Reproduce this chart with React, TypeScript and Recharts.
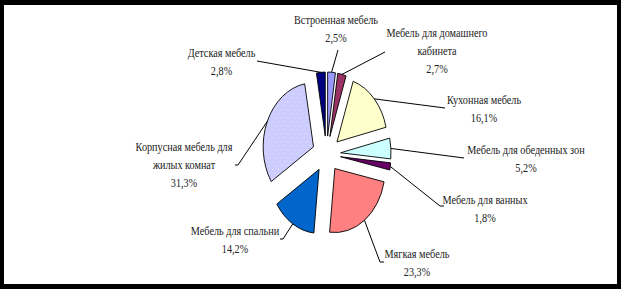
import React from 'react';
import { PieChart, Pie, Cell } from 'recharts';

// ---- data ----
const categories = [
  'Встроенная мебель',
  'Мебель для домашнего кабинета',
  'Кухонная мебель',
  'Мебель для обеденных зон',
  'Мебель для ванных',
  'Мягкая мебель',
  'Мебель для спальни',
  'Корпусная мебель для жилых комнат',
  'Детская мебель',
];
const shares = [2.5, 2.7, 16.1, 5.2, 1.8, 23.3, 14.2, 31.3, 2.8];

// ---- style / layout ----
const colors = ['#9999FF', '#993366', '#FFFFCC', '#CCFFFF', '#660066', '#FF8080', '#0066CC', 'url(#dotsFill)', '#000080'];
const CX = 326.5;
const CY = 154;
const R = 64;
const EXPLODE = 18;
const SX = 0.787;
const FONT = '"Liberation Serif", "Times New Roman", serif';
const FONT_SIZE = 13;
const LINE_H = 18;
const RAD = Math.PI / 180;

// label text block: first-line words count (0 = single line), centre x, first baseline y, leader end, optional elbow
const labelLayout = [
  { split: 0, x: 336, y: 24, end: [338, 50] },
  { split: 3, x: 437, y: 37, end: [385, 52] },
  { split: 0, x: 484, y: 104, end: [445, 108] },
  { split: 0, x: 526, y: 154, end: [464, 158] },
  { split: 0, x: 485, y: 204, end: [440, 206], elbow: [444, 206] },
  { split: 0, x: 417, y: 258, end: [380, 262], elbow: [384, 262] },
  { split: 0, x: 235, y: 235, end: [283, 239], elbow: [280, 239] },
  { split: 3, x: 184, y: 151, end: [238, 165], elbow: [235, 165] },
  { split: 0, x: 221.5, y: 57, end: [257, 61] },
];

const data = categories.map((name, i) => ({ name, value: shares[i] }));

const fmt = (v: number) => v.toFixed(1).replace('.', ',') + '%';

const ExplodedSector = (props: any) => {
  const { cx, cy, outerRadius, startAngle, endAngle, fill } = props;
  const mid = ((startAngle + endAngle) / 2) * RAD;
  const ox = cx + EXPLODE * Math.cos(mid);
  const oy = cy - EXPLODE * Math.sin(mid);
  const a0 = startAngle * RAD;
  const a1 = endAngle * RAD;
  const x0 = ox + outerRadius * Math.cos(a0);
  const y0 = oy - outerRadius * Math.sin(a0);
  const x1 = ox + outerRadius * Math.cos(a1);
  const y1 = oy - outerRadius * Math.sin(a1);
  const large = Math.abs(startAngle - endAngle) > 180 ? 1 : 0;
  const sweep = startAngle > endAngle ? 1 : 0;
  const d = `M${ox},${oy} L${x0},${y0} A${outerRadius},${outerRadius} 0 ${large} ${sweep} ${x1},${y1} Z`;
  const isPattern = typeof fill === 'string' && fill.startsWith('url');
  return (
    <g transform={`translate(${cx} 0) scale(${SX} 1) translate(${-cx} 0)`}>
      {isPattern && (
        <defs>
          <pattern id="dotsFill" patternUnits="userSpaceOnUse" width="8" height="8">
            <rect width="8" height="8" fill="#CCCCFF" />
            <rect x="1" y="1" width="1" height="1" fill="#FFFFFF" opacity="0.7" />
            <rect x="5" y="5" width="1" height="1" fill="#FFFFFF" opacity="0.7" />
          </pattern>
        </defs>
      )}
      <path d={d} fill={fill} stroke="#000" strokeWidth={0.9} vectorEffect="non-scaling-stroke" strokeLinejoin="round" />
    </g>
  );
};

const Line = ({ x, y, text }: { x: number; y: number; text: string }) => (
  <text
    x={0}
    y={0}
    textAnchor="middle"
    transform={`translate(${x} ${y}) scale(${SX} 1)`}
    fontFamily={FONT}
    fontSize={FONT_SIZE}
    fill="#222"
  >
    {text}
  </text>
);

const renderLabel = (props: any) => {
  const { cx, cy, midAngle, outerRadius, index } = props;
  const lay = labelLayout[index];
  const name = categories[index];
  const m = midAngle * RAD;
  const sx = cx + (outerRadius + EXPLODE) * Math.cos(m) * SX;
  const sy = cy - (outerRadius + EXPLODE) * Math.sin(m);
  const words = name.split(' ');
  const lines = lay.split > 0 ? [words.slice(0, lay.split).join(' '), words.slice(lay.split).join(' ')] : [name];
  lines.push(fmt(shares[index]));
  const pts = [[sx, sy], lay.end];
  if (lay.elbow) pts.push(lay.elbow);
  return (
    <g>
      <polyline points={pts.map((p) => p.join(',')).join(' ')} fill="none" stroke="#000" strokeWidth={1} />
      {lines.map((t, i) => (
        <Line key={i} x={lay.x} y={lay.y + i * LINE_H} text={t} />
      ))}
    </g>
  );
};

export default function App() {
  return (
    <div style={{ position: 'absolute', left: 0, top: 0, width: 621, height: 289, background: '#fff' }}>
      <PieChart width={621} height={289} margin={{ top: 0, right: 0, bottom: 0, left: 0 }}>
        <Pie
          data={data}
          dataKey="value"
          nameKey="name"
          cx={CX}
          cy={CY}
          outerRadius={R}
          startAngle={90}
          endAngle={-270}
          stroke="#000"
          isAnimationActive={false}
          labelLine={false}
          label={renderLabel}
          shape={ExplodedSector}
        >
          {data.map((d, i) => (
            <Cell key={d.name} fill={colors[i]} />
          ))}
        </Pie>
      </PieChart>
      <div
        style={{
          position: 'absolute',
          left: 0,
          top: 0,
          width: 621,
          height: 289,
          boxSizing: 'border-box',
          borderStyle: 'solid',
          borderColor: '#000',
          borderWidth: '5px 4px 5px 4px',
          pointerEvents: 'none',
        }}
      />
    </div>
  );
}
